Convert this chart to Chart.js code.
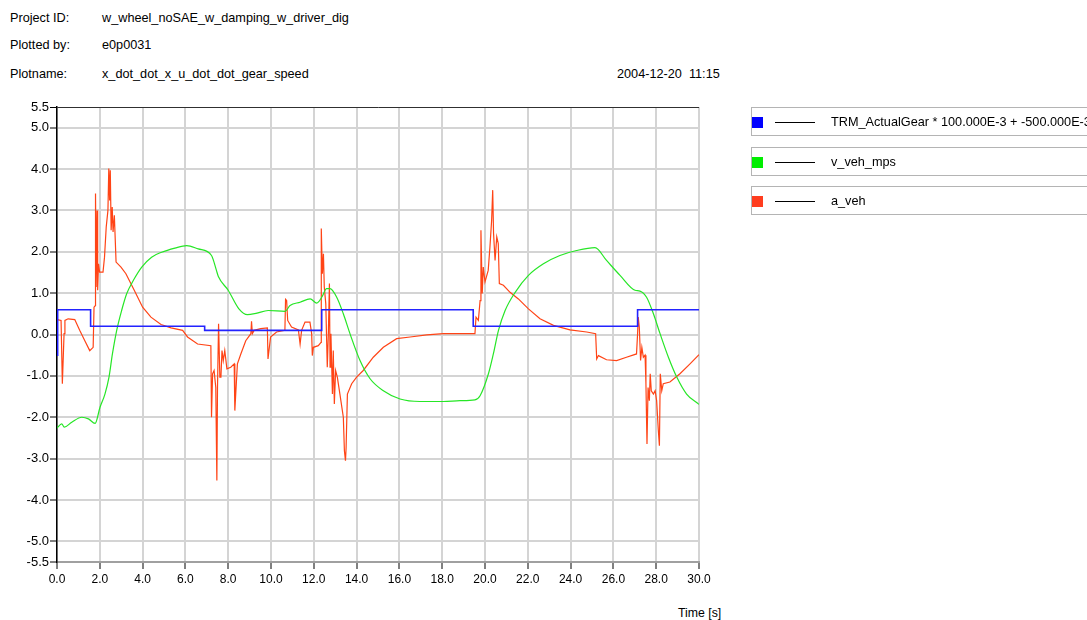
<!DOCTYPE html>
<html>
<head>
<meta charset="utf-8">
<script src="https://cdn.jsdelivr.net/npm/chart.js@4.4.0/dist/chart.umd.min.js"></script>
<style>
  html, body { margin: 0; padding: 0; background: #fff; overflow: hidden; }
  body { width: 1087px; height: 620px; position: relative; font-family: "Liberation Sans", Arial, sans-serif; font-size: 12.7px; color: #000; }
  #plot { position: absolute; left: 0; top: 0; }
  .txt { position: absolute; line-height: 14px; white-space: pre; }
  .axis-title { font-size: 12.3px; }
  .legend-item { position: absolute; left: 751px; width: 360px; height: 27px; border: 1px solid #b4b4b4; }
  .legend-item .swatch { position: absolute; left: 0; top: 9px; width: 11px; height: 11px; }
  .legend-item .dash { position: absolute; left: 23px; top: 14px; width: 40px; height: 1px; background: #000; }
  .legend-item .name { position: absolute; left: 79px; top: 7px; line-height: 14px; white-space: nowrap; }
</style>
</head>
<body>
<div class="txt" style="left:10px; top:11px;">Project ID:</div>
<div class="txt" style="left:102px; top:11px;">w_wheel_noSAE_w_damping_w_driver_dig</div>
<div class="txt" style="left:10px; top:38px;">Plotted by:</div>
<div class="txt" style="left:102px; top:38px;">e0p0031</div>
<div class="txt" style="left:10px; top:67px;">Plotname:</div>
<div class="txt" style="left:102px; top:67px;">x_dot_dot_x_u_dot_dot_gear_speed</div>
<div class="txt" style="left:617px; top:67px;">2004-12-20  11:15</div>
<div class="txt axis-title" style="left:678px; top:606px;">Time [s]</div>
<canvas id="plot" width="1087" height="620"></canvas>
<div id="legend"></div>
<script>
'use strict';

// Series data
// --------------------------------------------------------------------
const seriesNames = ['TRM_ActualGear * 100.000E-3 + -500.000E-3', 'v_veh_mps', 'a_veh'];

const gearTime = [0, 0.03, 1.57, 6.9, 12.37, 19.45, 27.13, 30];
const gearValue = [-0.5, 0.6, 0.2, 0.1, 0.6, 0.2, 0.6, 0.6];

const velTime = [
  0, 0.22, 0.34, 0.69, 1.16, 1.47, 1.78, 2.01, 2.24, 2.43, 2.59, 2.79, 3.02, 3.26, 3.57, 3.96,
  4.42, 4.89, 5.51, 6.06, 6.6, 7.22, 7.45, 7.54, 8.0, 8.5, 8.9, 9.3, 9.87, 10.66, 10.89, 11.36,
  11.83, 12.14, 12.37, 12.6, 12.76, 13.07, 13.38, 13.69, 14.16, 14.63, 15.25, 16.03, 16.96, 18.05,
  18.83, 19.53, 19.77, 20.16, 20.39, 20.63, 20.94, 21.41, 22.03, 22.73, 23.5, 24.28, 25.14, 25.68,
  26.31, 27.01, 27.24, 27.55, 27.87, 28.18, 28.57, 28.96, 29.42, 30
];
const velValue = [
  -2.26, -2.16, -2.24, -2.12, -2.0, -2.04, -2.15, -1.76, -1.44, -1.03, -0.47, 0.1, 0.58, 0.99, 1.31, 1.63,
  1.87, 1.99, 2.09, 2.15, 2.07, 1.91, 1.55, 1.4, 1.07, 0.62, 0.48, 0.51, 0.58, 0.56, 0.7, 0.78,
  0.86, 0.76, 0.9, 1.11, 1.11, 0.9, 0.5, 0.02, -0.63, -1.07, -1.36, -1.56, -1.62, -1.62,
  -1.6, -1.58, -1.48, -0.95, -0.47, 0.1, 0.58, 1.02, 1.43, 1.71, 1.91, 2.03, 2.1, 1.79,
  1.43, 1.07, 1.05, 0.9, 0.5, 0.02, -0.55, -1.03, -1.44, -1.69
];

const accTime = [
  0, 0.19, 0.25, 0.33, 0.37, 0.52, 0.83, 1.06, 1.3, 1.53, 1.69, 1.73, 1.79, 1.8, 1.83, 1.87,
  1.9, 1.94, 1.99, 2.15, 2.22, 2.3, 2.38, 2.42, 2.46, 2.49, 2.53, 2.58, 2.62, 2.68, 2.76, 2.99,
  3.22, 3.61, 4.0, 4.39, 4.86, 5.33, 5.87, 6.1, 6.57, 7.19, 7.22, 7.27, 7.34, 7.42, 7.47, 7.5,
  7.55, 7.61, 7.66, 7.71, 7.77, 7.84, 7.94, 8.12, 8.28, 8.31, 8.36, 8.43, 8.59, 8.82, 9.06, 9.09,
  9.13, 9.21, 9.52, 9.83, 9.86, 9.98, 10.26, 10.65, 10.68, 10.73, 10.78, 10.96, 11.28, 11.36, 11.43, 11.59,
  11.82, 11.9, 11.93, 11.98, 12.21, 12.34, 12.35, 12.4, 12.45, 12.49, 12.56, 12.63, 12.68, 12.73, 12.76, 12.8,
  12.87, 12.91, 12.96, 13.02, 13.1, 13.22, 13.38, 13.43, 13.48, 13.51, 13.57, 13.77, 14.0, 14.31, 14.78, 15.25,
  15.87, 16.5, 17.28, 18.05, 18.99, 19.53, 19.58, 19.69, 19.77, 19.81, 19.87, 19.92, 20.0, 20.15, 20.23, 20.31,
  20.36, 20.4, 20.47, 20.55, 20.62, 20.67, 20.86, 21.17, 21.56, 22.03, 22.57, 23.2, 23.97, 24.75, 25.17, 25.22,
  25.3, 25.68, 26.15, 26.61, 27.08, 27.13, 27.16, 27.21, 27.27, 27.33, 27.4, 27.48, 27.52, 27.57, 27.62, 27.68,
  27.72, 27.77, 27.87, 27.95, 28.02, 28.1, 28.15, 28.19, 28.26, 28.33, 28.64, 29.11, 29.58, 30
];
const accValue = [
  0.36, 0.34, -1.19, 0.02, 0.34, 0.38, 0.36, 0.1, -0.15, -0.39, -0.31, 0.66, 0.7, 3.41, 1.15, 3.0,
  1.07, 1.71, 1.51, 1.51, 1.87, 2.6, 3.0, 4.01, 3.24, 3.97, 2.52, 3.08, 2.48, 2.88, 1.75, 1.63,
  1.47, 1.07, 0.66, 0.42, 0.24, 0.16, 0.1, -0.06, -0.23, -0.27, -2.0, -0.95, -0.87, -1.28, -3.53, -1.28,
  0.26, -1.03, -1.03, -0.39, -0.63, -0.39, -0.83, -0.79, -0.71, -1.84, -1.36, -0.71, -0.47, -0.15, 0.02, 0.32,
  0.02, 0.1, 0.14, 0.16, -0.59, -0.06, 0.06, 0.1, 0.85, 0.82, 0.34, 0.18, 0.11, -0.23, 0.1, 0.3,
  0.3, 0.02, -0.51, -0.31, -0.27, -0.19, 2.56, 1.47, 1.95, 1.15, 0.74, -0.79, 0.02, 1.23, -0.79, 0.02,
  -1.44, -0.39, -1.68, -0.87, -1.03, -1.44, -2.0, -2.81, -3.05, -2.73, -1.44, -1.19, -1.03, -0.87, -0.55, -0.31,
  -0.1, -0.06, -0.01, 0.02, 0.02, 0.02, 0.42, 0.34, 0.82, 2.52, 0.99, 1.63, 1.27, 1.55, 2.11, 2.76,
  3.49, 2.44, 1.79, 2.36, 2.2, 1.23, 1.19, 1.02, 0.86, 0.62, 0.38, 0.22, 0.11, 0.06, 0.02, -0.59,
  -0.51, -0.61, -0.63, -0.55, -0.47, 0.02, 0.42, 0.18, -0.63, -0.31, -0.55, -0.5, -1.19, -2.65, -1.28, -1.6,
  -0.95, -1.36, -1.44, -1.36, -1.6, -2.32, -2.69, -0.95, -1.36, -1.19, -1.15, -0.95, -0.71, -0.49
];

const yTicks = [5.5, 5, 4, 3, 2, 1, 0, -1, -2, -3, -4, -5, -5.5];

(function () {
  // Colors
  const blueColor = '#2323ff',
    greenColor = '#26e626',
    redColor = '#ff4416',
    gridColor = '#d4d4d4',
    swatchColors = ['#0000ff', '#00ee00', '#ff3d1f'];

  const yFont = { family: '"Liberation Sans", Arial, sans-serif', size: 13 };
  const xFont = { family: '"Liberation Sans", Arial, sans-serif', size: 12 };

  const toPoints = (xs, ys) => xs.map((x, i) => ({ x: x, y: ys[i] }));

  // Legend boxes
  // --------------------------------------------------------------------
  const legendTops = [107, 147, 186];
  const legendEl = document.getElementById('legend');
  seriesNames.forEach(function (name, i) {
    const item = document.createElement('div');
    item.className = 'legend-item';
    item.style.top = legendTops[i] + 'px';
    item.innerHTML =
      '<div class="swatch" style="background:' + swatchColors[i] + '"></div>' +
      '<div class="dash"></div><div class="name"></div>';
    item.querySelector('.name').textContent = name;
    legendEl.appendChild(item);
  });

  // Line chart
  // --------------------------------------------------------------------
  const ctx = document.getElementById('plot');
  new Chart(ctx, {
    type: 'line',
    data: {
      datasets: [
        {
          label: seriesNames[0],
          data: toPoints(gearTime, gearValue),
          borderColor: blueColor,
          borderWidth: 1.6,
          stepped: true,
          pointRadius: 0
        },
        {
          label: seriesNames[1],
          data: toPoints(velTime, velValue),
          borderColor: greenColor,
          borderWidth: 1.2,
          cubicInterpolationMode: 'monotone',
          pointRadius: 0
        },
        {
          label: seriesNames[2],
          data: toPoints(accTime, accValue),
          borderColor: redColor,
          borderWidth: 1.2,
          tension: 0,
          pointRadius: 0
        }
      ]
    },
    options: {
      responsive: false,
      animation: false,
      layout: {
        padding: { left: 0, top: 107, right: 388, bottom: 0 }
      },
      plugins: {
        legend: { display: false },
        tooltip: { enabled: false }
      },
      scales: {
        x: {
          type: 'linear',
          min: 0,
          max: 30,
          afterFit: function (scale) {
            scale.height = 58;
          },
          ticks: {
            stepSize: 2,
            padding: 3,
            maxRotation: 0,
            autoSkip: false,
            color: '#000',
            font: xFont,
            callback: v => v.toFixed(1)
          },
          grid: {
            color: gridColor,
            lineWidth: 2,
            tickLength: 7,
            tickColor: '#000',
            tickWidth: 1
          },
          border: { color: '#a0a0a0', width: 2 }
        },
        y: {
          min: -5.5,
          max: 5.5,
          afterFit: function (scale) {
            scale.width = 57;
          },
          afterBuildTicks: function (scale) {
            scale.ticks = yTicks.map(v => ({ value: v }));
          },
          ticks: {
            padding: 1,
            color: '#000',
            font: yFont,
            callback: v => v.toFixed(1)
          },
          grid: {
            color: c => (c.tick.value === 5.5 ? '#303030' : c.tick.value === -5.5 ? 'transparent' : gridColor),
            lineWidth: c => (c.tick.value === 5.5 ? 1 : 2),
            tickLength: 7,
            tickColor: '#000',
            tickWidth: 1
          },
          border: { color: '#000', width: 1.5 }
        }
      }
    }
  });
})();
</script>
</body>
</html>
